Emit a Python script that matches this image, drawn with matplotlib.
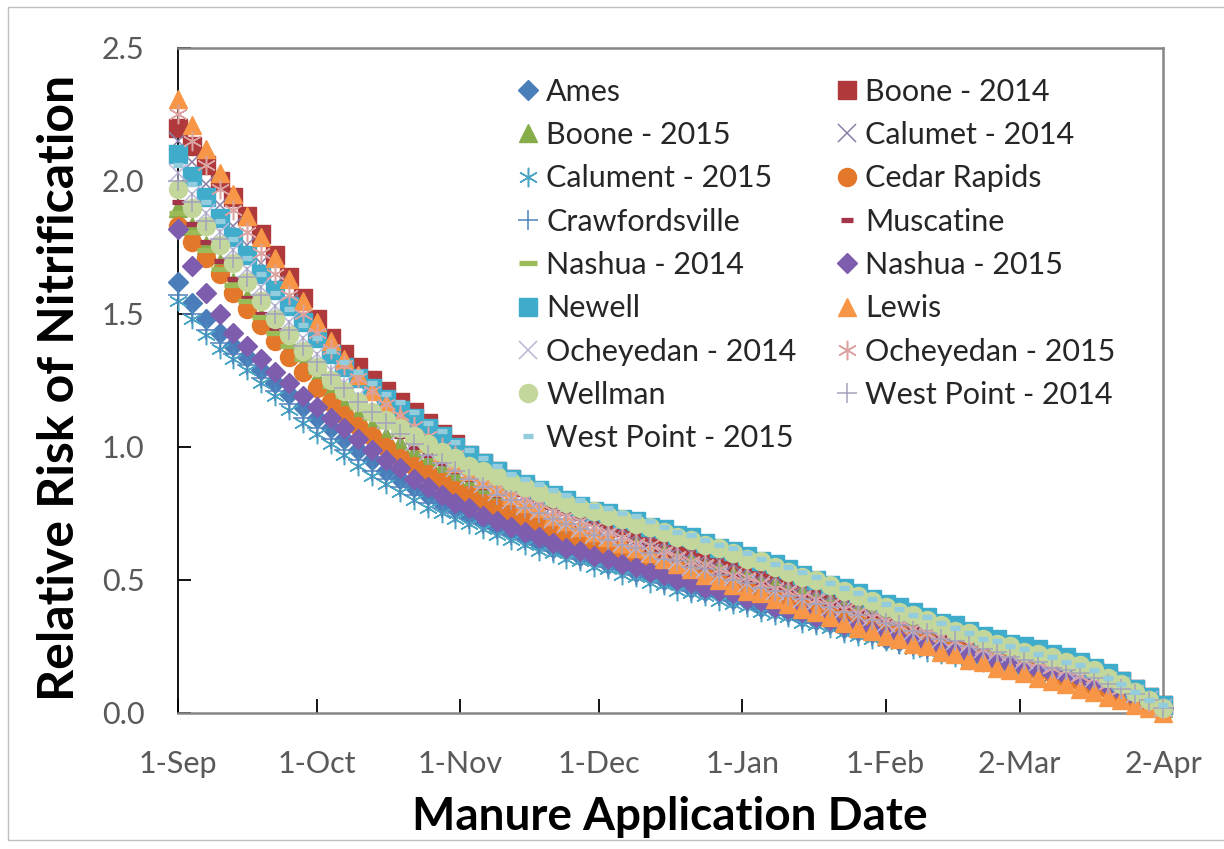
import matplotlib
matplotlib.use("Agg")
from matplotlib import pyplot as plt
from matplotlib.patches import Rectangle

plt.rcParams['font.family'] = ['Lato', 'DejaVu Sans']

# application dates as days after 1-Sep (every third day up to 2-Apr)
days = list(range(0, 214, 3))
tick_days = [0, 30, 61, 91, 122, 153, 182, 213]
tick_labels = ["1-Sep", "1-Oct", "1-Nov", "1-Dec", "1-Jan", "1-Feb", "2-Mar", "2-Apr"]

ames = [1.62, 1.54, 1.48, 1.43, 1.38, 1.34, 1.29, 1.24, 1.20, 1.15, 1.11, 1.07,
        1.03, 0.99, 0.95, 0.91, 0.88, 0.85, 0.82, 0.79, 0.77, 0.74, 0.72, 0.70,
        0.68, 0.66, 0.64, 0.62, 0.61, 0.59, 0.58, 0.56, 0.55, 0.53, 0.52, 0.50,
        0.49, 0.47, 0.46, 0.45, 0.43, 0.42, 0.40, 0.39, 0.38, 0.36, 0.35, 0.34,
        0.32, 0.31, 0.30, 0.28, 0.27, 0.26, 0.25, 0.23, 0.22, 0.21, 0.20, 0.19,
        0.18, 0.17, 0.16, 0.15, 0.14, 0.13, 0.11, 0.10, 0.08, 0.06, 0.04, 0.02]
boone_2014 = [2.20, 2.13, 2.06, 2.00, 1.94, 1.87, 1.80, 1.72, 1.64, 1.56, 1.48, 1.41,
              1.35, 1.30, 1.25, 1.21, 1.17, 1.13, 1.09, 1.05, 1.01, 0.97, 0.94, 0.91,
              0.88, 0.85, 0.83, 0.80, 0.78, 0.76, 0.74, 0.72, 0.70, 0.68, 0.66, 0.64,
              0.62, 0.61, 0.59, 0.57, 0.56, 0.54, 0.52, 0.51, 0.49, 0.48, 0.46, 0.44,
              0.43, 0.41, 0.40, 0.38, 0.37, 0.35, 0.34, 0.32, 0.31, 0.29, 0.28, 0.26,
              0.25, 0.24, 0.22, 0.21, 0.19, 0.18, 0.16, 0.14, 0.12, 0.09, 0.06, 0.03]
boone_2015 = [1.90, 1.83, 1.76, 1.69, 1.62, 1.56, 1.49, 1.43, 1.37, 1.31, 1.26, 1.21,
              1.16, 1.12, 1.08, 1.04, 1.01, 0.98, 0.95, 0.92, 0.89, 0.86, 0.84, 0.81,
              0.79, 0.77, 0.75, 0.73, 0.71, 0.69, 0.68, 0.66, 0.64, 0.63, 0.61, 0.60,
              0.58, 0.57, 0.55, 0.54, 0.52, 0.51, 0.49, 0.48, 0.46, 0.45, 0.43, 0.42,
              0.40, 0.39, 0.37, 0.36, 0.34, 0.33, 0.31, 0.30, 0.28, 0.27, 0.26, 0.24,
              0.23, 0.22, 0.20, 0.19, 0.18, 0.16, 0.15, 0.13, 0.11, 0.08, 0.05, 0.02]
calumet_2014 = [2.15, 2.07, 1.99, 1.91, 1.83, 1.76, 1.69, 1.61, 1.54, 1.47, 1.41, 1.35,
                1.29, 1.24, 1.19, 1.15, 1.11, 1.07, 1.03, 1.00, 0.96, 0.93, 0.90, 0.87,
                0.85, 0.82, 0.80, 0.78, 0.76, 0.74, 0.72, 0.70, 0.69, 0.67, 0.65, 0.64,
                0.62, 0.60, 0.59, 0.57, 0.56, 0.54, 0.52, 0.51, 0.49, 0.48, 0.46, 0.44,
                0.43, 0.41, 0.40, 0.38, 0.37, 0.35, 0.34, 0.32, 0.31, 0.29, 0.28, 0.26,
                0.25, 0.24, 0.22, 0.21, 0.20, 0.18, 0.16, 0.14, 0.11, 0.09, 0.06, 0.03]
calument_2015 = [1.55, 1.48, 1.42, 1.37, 1.33, 1.29, 1.24, 1.19, 1.14, 1.09, 1.05, 1.01,
                 0.97, 0.93, 0.89, 0.86, 0.83, 0.80, 0.77, 0.75, 0.73, 0.71, 0.69, 0.67,
                 0.65, 0.63, 0.61, 0.60, 0.58, 0.57, 0.55, 0.54, 0.52, 0.51, 0.49, 0.48,
                 0.46, 0.45, 0.44, 0.42, 0.41, 0.40, 0.38, 0.37, 0.36, 0.34, 0.33, 0.32,
                 0.30, 0.29, 0.28, 0.27, 0.26, 0.24, 0.23, 0.22, 0.21, 0.20, 0.19, 0.18,
                 0.17, 0.16, 0.15, 0.14, 0.13, 0.12, 0.10, 0.09, 0.07, 0.05, 0.04, 0.02]
cedar_rapids = [1.83, 1.77, 1.71, 1.65, 1.58, 1.52, 1.46, 1.40, 1.34, 1.28, 1.22, 1.17,
                1.12, 1.08, 1.04, 1.00, 0.96, 0.93, 0.90, 0.87, 0.84, 0.82, 0.79, 0.77,
                0.75, 0.73, 0.71, 0.69, 0.67, 0.65, 0.64, 0.62, 0.60, 0.59, 0.57, 0.56,
                0.54, 0.53, 0.51, 0.50, 0.48, 0.47, 0.45, 0.44, 0.42, 0.41, 0.39, 0.38,
                0.36, 0.35, 0.33, 0.32, 0.30, 0.29, 0.27, 0.26, 0.25, 0.23, 0.22, 0.20,
                0.19, 0.18, 0.16, 0.15, 0.13, 0.12, 0.10, 0.09, 0.07, 0.05, 0.03, 0.01]
crawfordsville = [1.57, 1.50, 1.44, 1.39, 1.35, 1.31, 1.26, 1.21, 1.16, 1.11, 1.07, 1.03,
                  0.99, 0.95, 0.91, 0.88, 0.85, 0.82, 0.79, 0.77, 0.75, 0.73, 0.71, 0.69,
                  0.67, 0.65, 0.63, 0.61, 0.60, 0.58, 0.57, 0.55, 0.54, 0.52, 0.51, 0.49,
                  0.48, 0.46, 0.45, 0.44, 0.42, 0.41, 0.39, 0.38, 0.37, 0.35, 0.34, 0.33,
                  0.31, 0.30, 0.29, 0.28, 0.26, 0.25, 0.24, 0.23, 0.22, 0.21, 0.20, 0.19,
                  0.18, 0.17, 0.16, 0.15, 0.14, 0.13, 0.11, 0.10, 0.08, 0.06, 0.04, 0.02]
muscatine = [1.92, 1.84, 1.77, 1.70, 1.63, 1.56, 1.50, 1.44, 1.38, 1.33, 1.28, 1.24,
             1.20, 1.16, 1.12, 1.08, 1.04, 1.00, 0.97, 0.94, 0.91, 0.88, 0.85, 0.82,
             0.80, 0.78, 0.75, 0.73, 0.71, 0.70, 0.68, 0.66, 0.64, 0.63, 0.61, 0.59,
             0.58, 0.56, 0.55, 0.53, 0.52, 0.50, 0.49, 0.47, 0.46, 0.44, 0.43, 0.41,
             0.40, 0.38, 0.37, 0.35, 0.34, 0.32, 0.31, 0.29, 0.28, 0.27, 0.25, 0.24,
             0.23, 0.21, 0.20, 0.19, 0.17, 0.16, 0.14, 0.13, 0.11, 0.08, 0.05, 0.02]
nashua_2014 = [1.88, 1.81, 1.74, 1.67, 1.61, 1.55, 1.49, 1.43, 1.38, 1.33, 1.28, 1.23,
               1.19, 1.15, 1.11, 1.08, 1.05, 1.02, 0.99, 0.96, 0.94, 0.91, 0.89, 0.87,
               0.85, 0.83, 0.81, 0.79, 0.78, 0.76, 0.75, 0.73, 0.72, 0.70, 0.69, 0.67,
               0.66, 0.64, 0.63, 0.61, 0.59, 0.58, 0.56, 0.54, 0.53, 0.51, 0.49, 0.48,
               0.46, 0.44, 0.42, 0.40, 0.39, 0.37, 0.35, 0.33, 0.32, 0.30, 0.28, 0.27,
               0.25, 0.24, 0.22, 0.21, 0.19, 0.18, 0.16, 0.14, 0.11, 0.08, 0.05, 0.02]
nashua_2015 = [1.82, 1.68, 1.58, 1.50, 1.43, 1.38, 1.33, 1.28, 1.24, 1.19, 1.15, 1.11,
               1.07, 1.03, 0.99, 0.95, 0.92, 0.88, 0.85, 0.82, 0.79, 0.77, 0.74, 0.72,
               0.70, 0.68, 0.66, 0.64, 0.62, 0.61, 0.59, 0.58, 0.56, 0.55, 0.53, 0.52,
               0.50, 0.49, 0.47, 0.46, 0.45, 0.43, 0.42, 0.40, 0.39, 0.38, 0.36, 0.35,
               0.33, 0.32, 0.31, 0.29, 0.28, 0.27, 0.25, 0.24, 0.23, 0.22, 0.21, 0.19,
               0.18, 0.17, 0.16, 0.15, 0.14, 0.13, 0.11, 0.10, 0.08, 0.06, 0.04, 0.02]
newell = [2.10, 2.02, 1.94, 1.86, 1.79, 1.72, 1.65, 1.59, 1.53, 1.47, 1.41, 1.35,
          1.30, 1.26, 1.22, 1.18, 1.14, 1.11, 1.07, 1.04, 1.00, 0.97, 0.94, 0.91,
          0.88, 0.86, 0.84, 0.82, 0.80, 0.78, 0.76, 0.75, 0.73, 0.72, 0.70, 0.69,
          0.67, 0.66, 0.64, 0.62, 0.61, 0.59, 0.57, 0.56, 0.54, 0.52, 0.50, 0.48,
          0.47, 0.45, 0.43, 0.41, 0.40, 0.38, 0.36, 0.34, 0.33, 0.31, 0.29, 0.28,
          0.26, 0.25, 0.24, 0.22, 0.21, 0.19, 0.17, 0.15, 0.12, 0.09, 0.06, 0.03]
lewis = [2.31, 2.21, 2.12, 2.03, 1.95, 1.87, 1.79, 1.71, 1.63, 1.55, 1.47, 1.40,
         1.33, 1.27, 1.21, 1.16, 1.11, 1.06, 1.02, 0.98, 0.94, 0.91, 0.88, 0.85,
         0.82, 0.79, 0.77, 0.74, 0.72, 0.70, 0.68, 0.66, 0.64, 0.62, 0.60, 0.58,
         0.56, 0.54, 0.52, 0.50, 0.48, 0.46, 0.45, 0.43, 0.41, 0.39, 0.38, 0.36,
         0.34, 0.32, 0.31, 0.29, 0.28, 0.26, 0.25, 0.23, 0.22, 0.20, 0.19, 0.17,
         0.16, 0.15, 0.13, 0.12, 0.11, 0.09, 0.08, 0.06, 0.05, 0.03, 0.02, 0.00]
ocheyedan_2014 = [2.03, 1.95, 1.88, 1.81, 1.74, 1.67, 1.60, 1.53, 1.47, 1.41, 1.35, 1.29,
                  1.24, 1.19, 1.14, 1.10, 1.06, 1.02, 0.98, 0.95, 0.92, 0.89, 0.86, 0.83,
                  0.80, 0.78, 0.76, 0.73, 0.71, 0.69, 0.67, 0.66, 0.64, 0.62, 0.60, 0.59,
                  0.57, 0.55, 0.54, 0.52, 0.51, 0.49, 0.48, 0.46, 0.45, 0.43, 0.42, 0.40,
                  0.39, 0.37, 0.36, 0.34, 0.33, 0.31, 0.30, 0.28, 0.27, 0.26, 0.24, 0.23,
                  0.22, 0.20, 0.19, 0.18, 0.16, 0.15, 0.13, 0.12, 0.10, 0.07, 0.05, 0.02]
ocheyedan_2015 = [2.25, 2.15, 2.06, 1.97, 1.89, 1.81, 1.73, 1.65, 1.57, 1.50, 1.43, 1.37,
                  1.31, 1.26, 1.21, 1.16, 1.12, 1.08, 1.04, 1.00, 0.97, 0.93, 0.90, 0.87,
                  0.84, 0.81, 0.79, 0.76, 0.74, 0.72, 0.70, 0.68, 0.66, 0.64, 0.63, 0.61,
                  0.59, 0.57, 0.56, 0.54, 0.52, 0.51, 0.49, 0.47, 0.46, 0.44, 0.43, 0.41,
                  0.39, 0.38, 0.36, 0.35, 0.33, 0.32, 0.30, 0.29, 0.27, 0.26, 0.24, 0.23,
                  0.22, 0.20, 0.19, 0.17, 0.16, 0.14, 0.13, 0.11, 0.09, 0.07, 0.04, 0.02]
wellman = [1.97, 1.90, 1.83, 1.76, 1.69, 1.62, 1.55, 1.48, 1.42, 1.36, 1.30, 1.25,
           1.21, 1.17, 1.13, 1.10, 1.07, 1.04, 1.01, 0.98, 0.96, 0.93, 0.91, 0.89,
           0.87, 0.85, 0.83, 0.81, 0.79, 0.77, 0.76, 0.74, 0.73, 0.71, 0.70, 0.68,
           0.66, 0.65, 0.63, 0.62, 0.60, 0.58, 0.57, 0.55, 0.53, 0.51, 0.50, 0.48,
           0.46, 0.44, 0.42, 0.40, 0.38, 0.37, 0.35, 0.33, 0.31, 0.30, 0.28, 0.26,
           0.25, 0.23, 0.22, 0.21, 0.19, 0.18, 0.16, 0.13, 0.11, 0.08, 0.05, 0.02]
west_point_2014 = [2.00, 1.92, 1.85, 1.78, 1.71, 1.64, 1.57, 1.50, 1.44, 1.38, 1.32, 1.27,
                   1.22, 1.17, 1.13, 1.09, 1.05, 1.01, 0.97, 0.94, 0.91, 0.88, 0.85, 0.82,
                   0.80, 0.77, 0.75, 0.73, 0.71, 0.69, 0.67, 0.65, 0.63, 0.62, 0.60, 0.58,
                   0.57, 0.55, 0.54, 0.52, 0.50, 0.49, 0.47, 0.46, 0.44, 0.43, 0.41, 0.40,
                   0.38, 0.37, 0.35, 0.34, 0.33, 0.31, 0.30, 0.28, 0.27, 0.25, 0.24, 0.23,
                   0.21, 0.20, 0.19, 0.17, 0.16, 0.15, 0.13, 0.11, 0.09, 0.07, 0.05, 0.02]
west_point_2015 = [2.06, 1.99, 1.92, 1.85, 1.78, 1.71, 1.65, 1.58, 1.52, 1.46, 1.41, 1.36,
                   1.32, 1.28, 1.24, 1.20, 1.17, 1.13, 1.09, 1.06, 1.02, 0.99, 0.96, 0.93,
                   0.90, 0.88, 0.86, 0.84, 0.82, 0.80, 0.78, 0.77, 0.75, 0.74, 0.72, 0.70,
                   0.68, 0.67, 0.65, 0.63, 0.62, 0.60, 0.58, 0.56, 0.55, 0.53, 0.51, 0.49,
                   0.47, 0.45, 0.43, 0.41, 0.39, 0.37, 0.36, 0.34, 0.32, 0.30, 0.28, 0.27,
                   0.25, 0.24, 0.22, 0.21, 0.19, 0.18, 0.16, 0.13, 0.11, 0.08, 0.05, 0.03]

names = ["Ames", "Boone - 2014", "Boone - 2015", "Calumet - 2014", "Calument - 2015",
         "Cedar Rapids", "Crawfordsville", "Muscatine", "Nashua - 2014", "Nashua - 2015",
         "Newell", "Lewis", "Ocheyedan - 2014", "Ocheyedan - 2015", "Wellman",
         "West Point - 2014", "West Point - 2015"]
series = [ames, boone_2014, boone_2015, calumet_2014, calument_2015, cedar_rapids,
          crawfordsville, muscatine, nashua_2014, nashua_2015, newell, lewis,
          ocheyedan_2014, ocheyedan_2015, wellman, west_point_2014, west_point_2015]

star = (6, 2, 0)
# (marker, colour, size, edge width) in Excel's default cycle
styles = [("D", "#4A7EBB", 10.5, 1), ("s", "#B0393C", 12.5, 1), ("^", "#86AD4A", 13.5, 1),
          ("x", "#8A7FA8", 12.5, 1.1), (star, "#4BA5C4", 14, 1.1), ("o", "#E3782A", 13, 1),
          ("+", "#4F81BD", 14, 1.1), ("_", "#A3354A", 8.5, 3.8), ("_", "#9BBB59", 13, 3.8),
          ("D", "#7E5CAE", 10.5, 1), ("s", "#3FACCB", 12.5, 1), ("^", "#F79646", 13.5, 1),
          ("x", "#B9B6D6", 12.5, 1.1), (star, "#DAA2A0", 14, 1.1), ("o", "#C3D69B", 13, 1),
          ("+", "#A4A2BC", 14, 1.1), ("_", "#93CDDD", 6.5, 3.8)]

fig = plt.figure(figsize=(12.24, 8.49), dpi=100)
fig.patches.append(Rectangle((0.0065, 0.0106), 1.0, 0.9812, transform=fig.transFigure,
                             fill=False, edgecolor="#BFBFBF", linewidth=1))
ax = fig.add_axes([0.1454, 0.1602, 0.8048, 0.7833])

handles = []
for i, (name, vals) in enumerate(zip(names, series)):
    m, c, s, w = styles[i]
    h, = ax.plot(days, vals, linestyle="none", marker=m, markersize=s,
                 markerfacecolor=c, markeredgecolor=c, markeredgewidth=w,
                 clip_on=False, zorder=3 + i, label=name)
    handles.append(h)

ax.set_xlim(0, 213)
ax.set_ylim(0, 2.5)
ax.set_xticks(tick_days)
ax.set_xticklabels(tick_labels)
ax.set_yticks([0, 0.5, 1.0, 1.5, 2.0, 2.5])
ax.set_yticklabels(["%.1f" % v for v in [0, 0.5, 1.0, 1.5, 2.0, 2.5]])

ax.spines["left"].set_color("black")
ax.spines["left"].set_linewidth(1.3)
for side in ["bottom", "top", "right"]:
    ax.spines[side].set_color("#868686")
    ax.spines[side].set_linewidth(1.8)
ax.tick_params(axis="x", direction="in", length=10, width=1.3, color="black",
               labelsize=22, labelcolor="#595959", pad=27)
ax.tick_params(axis="y", direction="in", length=9, width=1.3, color="black",
               labelsize=22, labelcolor="#595959", pad=24)
ax.tick_params(axis="x", which="both", top=False)

fig.text(60 / 1224, 1 - 388 / 849, "Relative Risk of Nitrification", rotation=90,
         ha="center", va="center", fontsize=36, fontweight="bold")
fig.text(670 / 1224, 1 - 817 / 849, "Manure Application Date",
         ha="center", va="center", fontsize=33, fontweight="bold")

order = list(range(0, 17, 2)) + list(range(1, 17, 2))
ax.legend([handles[i] for i in order], [names[i] for i in order], ncol=2,
          loc="upper left", bbox_to_anchor=(0.343, 0.955), frameon=False,
          fontsize=22, handlelength=0.8, handletextpad=0.2, labelspacing=0.5,
          columnspacing=1.25, borderpad=0, borderaxespad=0, labelcolor="#262626")

fig.savefig("out.png", dpi=100)
